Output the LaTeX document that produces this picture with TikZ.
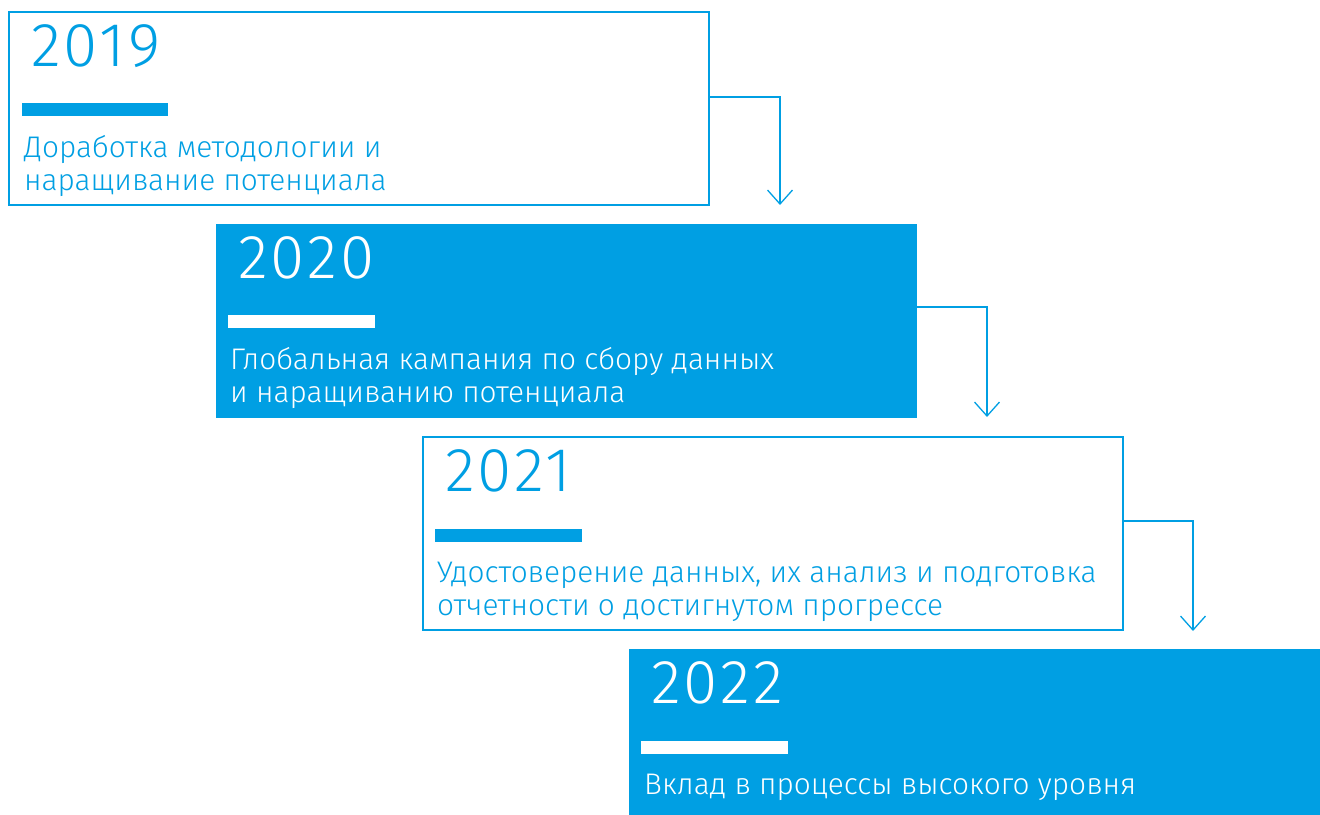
\documentclass[tikz,border=0pt]{standalone}
\usepackage{fontspec}
\setmainfont{Fira Sans}[UprightFont=* Light]
\newfontfamily\yrfont{Fira Sans}[UprightFont=* Light,LetterSpace=5]
\usetikzlibrary{arrows.meta}
\definecolor{ublue}{RGB}{0,159,227}
\begin{document}
\begin{tikzpicture}[x=1pt,y=-1pt,
  boxo/.style={draw=ublue,line width=1.4pt,fill=white,minimum width=700pt,minimum height=193pt,anchor=north west,inner sep=0pt,outer sep=0pt},
  boxf/.style={fill=ublue,minimum width=701pt,minimum height=194pt,anchor=north west,inner sep=0pt,outer sep=0pt},
  yr/.style={anchor=base west,inner sep=0pt,font=\yrfont\fontsize{62}{62}\selectfont},
  txt/.style={anchor=base west,inner sep=0pt,font=\fontsize{29.8}{33}\selectfont},
  arr/.style={draw=ublue,line width=1.3pt,-{Straight Barb[length=14pt,width=25pt,line width=1.3pt]}}]
\useasboundingbox (0,0) rectangle (1320,814);
% box 1
\node[boxo] (b1) at (9,12) {};
\node[yr,ublue] (y1) at (31,66) {2019};
\fill[ublue] (22,103) rectangle (168,116);
\node[txt,ublue] (t1a) at (24,157) {Доработка методологии и};
\node[txt,ublue] (t1b) at (24,190) {наращивание потенциала};
% box 2
\node[boxf] (b2) at (216,224) {};
\node[yr,white] (y2) at (238,278) {2020};
\fill[white] (228,315) rectangle (375,328);
\node[txt,white] (t2a) at (230,369) {Глобальная кампания по сбору данных};
\node[txt,white] (t2b) at (230,402) {и наращиванию потенциала};
% box 3
\node[boxo] (b3) at (423,437) {};
\node[yr,ublue] (y3) at (445,491) {2021};
\fill[ublue] (435,529) rectangle (582,542);
\node[txt,ublue] (t3a) at (437,582) {Удостоверение данных, их анализ и подготовка};
\node[txt,ublue] (t3b) at (437,615) {отчетности о достигнутом прогрессе};
% box 4
\node[boxf,minimum width=700pt,minimum height=170pt] (b4) at (629,649) {};
\node[yr,white] (y4) at (651,703) {2022};
\fill[white] (641,741) rectangle (788,754);
\node[txt,white] (t4a) at (644,794) {Вклад в процессы высокого уровня};
% connectors
\coordinate (e1) at (780,205);
\coordinate (e2) at (987,417);
\coordinate (e3) at (1193,631);
\draw[arr] (b1.east |- 0,97) -| (e1);
\draw[arr] (b2.east |- 0,307) -| (e2);
\draw[arr] (b3.east |- 0,521) -| (e3);
\end{tikzpicture}
\end{document}
